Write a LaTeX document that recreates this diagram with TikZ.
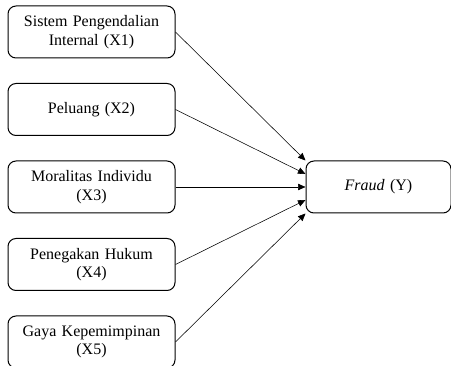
\documentclass[tikz,border=0pt]{standalone}
\usepackage{fontspec}
\setmainfont{Liberation Serif}
\usetikzlibrary{positioning, arrows.meta}
\tikzset{varbox/.style={draw, line width=1pt, rounded corners=8pt,
    minimum width=167pt, minimum height=52pt, text width=160pt,
    align=center, inner sep=2pt, font=\fontsize{16}{18.5}\selectfont}}

\begin{document}
\begin{tikzpicture}[>={Triangle[length=7.5pt,width=6.5pt]}, node distance=24.5pt]
  \useasboundingbox (0,0) rectangle (451pt,-366pt);

  \node[varbox] (x1) at (91.5pt,-32pt) {Sistem Pengendalian\\Internal (X1)};
  \node[varbox, below=of x1] (x2) {Peluang (X2)};
  \node[varbox, below=of x2] (x3) {Moralitas Individu\\(X3)};
  \node[varbox, below=of x3] (x4) {Penegakan Hukum\\(X4)};
  \node[varbox, below=of x4] (x5) {Gaya Kepemimpinan\\(X5)};

  \node[varbox, minimum width=145pt, text width=138pt, right=130pt of x3] (y) {\textit{Fraud} (Y)};

  % arrows into Y
  \draw[->, line width=0.55pt] (x1.east) -- (y.north west);
  \draw[->, line width=0.55pt] (x2.east) -- ([yshift=13pt]y.west);
  \draw[->, line width=0.55pt] (x3.east) -- (y.west);
  \draw[->, line width=0.55pt] (x4.east) -- ([yshift=-13pt]y.west);
  \draw[->, line width=0.55pt] (x5.east) -- (y.south west);
\end{tikzpicture}
\end{document}
